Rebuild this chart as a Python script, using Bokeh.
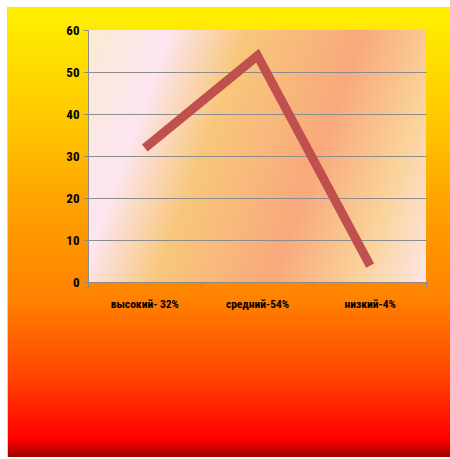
from bokeh.plotting import figure
from bokeh.models import Range1d, FixedTicker
from bokeh.embed import file_html
from bokeh.resources import INLINE

# Data
categories = ["высокий- 32%", "средний-54%", "низкий-4%"]
values = [32, 54, 4]
y_ticks = [0, 10, 20, 30, 40, 50, 60]

x_centers = [i + 0.5 for i in range(len(categories))]
x_bounds = [i for i in range(len(categories) + 1)]

FONT = "Roboto Condensed, DejaVu Sans Condensed, sans-serif"

p = figure(width=450, height=457, output_backend="svg", toolbar_location=None,
           x_range=Range1d(0, len(categories)), y_range=Range1d(0, 60),
           min_border_left=88, min_border_right=24, min_border_top=30, min_border_bottom=175)

p.background_fill_alpha = 0
p.border_fill_alpha = 0
p.outline_line_color = None

plot_grad = ("linear-gradient(110deg, #FAEBD2 0%, #FCE6F2 19%, #F8C77B 37%, "
             "#F9A87C 64%, #FAD39B 84%, #FDE6E6 100%) 88px 30px / 338px 252px no-repeat")
fig_grad = ("linear-gradient(180deg, #FFF000 0%, #FFC800 25%, #FFA000 45%, #FF8200 65%, "
            "#FF4000 83%, #FF0000 96%, #A00000 100%) 8px 8px / 442px 449px no-repeat")
border_line = ("linear-gradient(#D4D4D4, #D4D4D4) 7px 7px / 443px 450px no-repeat")
p.styles = {"background": plot_grad + ", " + fig_grad + ", " + border_line}

p.line(x_centers, values, line_width=9, line_color="#C0504D", line_cap="butt", line_join="miter")

# y axis
p.yaxis.ticker = FixedTicker(ticks=y_ticks)
p.yaxis.axis_line_color = "#8C8C8C"
p.yaxis.major_tick_line_color = "#8C8C8C"
p.yaxis.major_tick_out = 5
p.yaxis.major_tick_in = 0
p.yaxis.minor_tick_line_color = None
p.yaxis.major_label_text_font = FONT
p.yaxis.major_label_text_font_style = "bold"
p.yaxis.major_label_text_font_size = "13px"
p.yaxis.major_label_text_color = "#000000"
p.yaxis.major_label_standoff = 4

# x axis
p.xaxis.ticker = FixedTicker(ticks=x_centers, minor_ticks=x_bounds)
p.xaxis.major_label_overrides = {c: lab for c, lab in zip(x_centers, categories)}
p.xaxis.axis_line_color = "#8C8C8C"
p.xaxis.major_tick_line_color = None
p.xaxis.major_tick_out = 0
p.xaxis.major_tick_in = 0
p.xaxis.minor_tick_line_color = "#8C8C8C"
p.xaxis.minor_tick_out = 6
p.xaxis.minor_tick_in = 0
p.xaxis.major_label_text_font = FONT
p.xaxis.major_label_text_font_style = "bold"
p.xaxis.major_label_text_font_size = "11.5px"
p.xaxis.major_label_text_color = "#000000"
p.xaxis.major_label_standoff = 8

p.xgrid.grid_line_color = None
p.ygrid.ticker = FixedTicker(ticks=y_ticks)
p.ygrid.grid_line_color = "#8C8C8C"
p.ygrid.grid_line_width = 1

open("out.html", "w").write(file_html(p, INLINE))
